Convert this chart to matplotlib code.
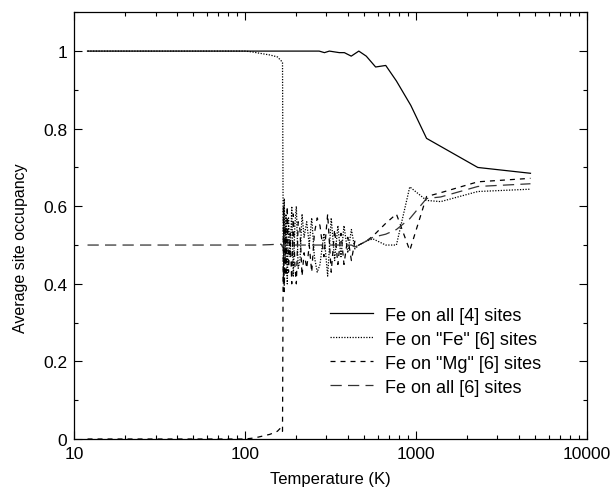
import matplotlib
matplotlib.use("Agg")
import matplotlib.pyplot as plt
from matplotlib.ticker import MultipleLocator, LogLocator, FixedLocator, FixedFormatter, NullFormatter

plt.rcParams['font.family'] = ['Liberation Sans', 'DejaVu Sans']

# Fe on all [4] sites
temps4 = [12, 100, 208, 272, 292, 312, 357, 382, 419, 464, 513, 582, 667, 770, 935, 1156, 2306, 4688]
fe4 = [1.0, 1.0, 1.0, 1.0, 0.996, 1.0, 0.996, 0.996, 0.987, 1.0, 0.987, 0.959, 0.963, 0.923, 0.860, 0.775, 0.700, 0.685]

# [6] site series share one temperature grid
temps6 = [12, 100, 110, 120, 140, 155, 163, 166,
          168, 170, 172, 174, 177, 180, 184, 188, 192, 196, 200, 205, 210, 216, 222,
          230, 238, 246, 255, 265, 275, 290, 305, 320, 335, 350, 365, 380, 400, 420,
          440, 464, 513, 561, 667, 770, 922, 1156, 1400, 2306, 4688]
fe_fe6 = [1.0, 1.0, 0.998, 0.995, 0.99, 0.985, 0.975, 0.97,
          0.40, 0.62, 0.45, 0.58, 0.40, 0.57, 0.47, 0.60, 0.42, 0.55, 0.60, 0.44, 0.46, 0.58, 0.52,
          0.56, 0.50, 0.57, 0.47, 0.43, 0.45, 0.53, 0.42, 0.57, 0.46, 0.55, 0.47, 0.55, 0.48, 0.54,
          0.49, 0.50, 0.51, 0.516, 0.50, 0.50, 0.65, 0.615, 0.612, 0.638, 0.644]
fe_mg6 = [0.0, 0.0, 0.002, 0.005, 0.012, 0.02, 0.03, 0.02,
          0.60, 0.38, 0.55, 0.42, 0.60, 0.43, 0.53, 0.40, 0.58, 0.45, 0.40, 0.56, 0.54, 0.42, 0.48,
          0.44, 0.50, 0.43, 0.53, 0.57, 0.55, 0.47, 0.58, 0.43, 0.54, 0.45, 0.53, 0.45, 0.52, 0.46,
          0.51, 0.50, 0.51, 0.523, 0.556, 0.58, 0.486, 0.625, 0.635, 0.663, 0.672]
fe_all6 = [0.5, 0.5, 0.5, 0.5, 0.501, 0.502, 0.502, 0.495,
           0.50, 0.50, 0.50, 0.50, 0.50, 0.50, 0.50, 0.50, 0.50, 0.50, 0.50, 0.50, 0.50, 0.50, 0.50,
           0.50, 0.50, 0.50, 0.50, 0.50, 0.50, 0.50, 0.50, 0.50, 0.50, 0.50, 0.50, 0.50, 0.50, 0.50,
           0.495, 0.50, 0.51, 0.52, 0.528, 0.54, 0.568, 0.62, 0.624, 0.651, 0.658]

labels = ['Fe on all [4] sites', 'Fe on "Fe" [6] sites', 'Fe on "Mg" [6] sites', 'Fe on all [6] sites']
xticks = [10, 100, 1000, 10000]
xticklabels = ['10', '100', '1000', '10000']
yticks = [0, 0.2, 0.4, 0.6, 0.8, 1.0]
yticklabels = ['0', '0.2', '0.4', '0.6', '0.8', '1']

fig = plt.figure(figsize=(6.13, 4.89), dpi=100)
ax = fig.add_axes([0.1207, 0.1002, 0.8364, 0.8726])

lw = 0.9
ax.plot(temps4, fe4, color='black', lw=lw, ls='-', label=labels[0])
ax.plot(temps6, fe_fe6, color='black', lw=lw, ls=(0, (1, 1.2)), label=labels[1])
ax.plot(temps6, fe_mg6, color='black', lw=lw, ls=(0, (4, 4)), label=labels[2])
ax.plot(temps6, fe_all6, color='#333333', lw=lw, ls=(0, (9, 5)), label=labels[3])

ax.set_xscale('log')
ax.set_xlim(10, 10000)
ax.set_ylim(0, 1.1)
ax.xaxis.set_major_locator(FixedLocator(xticks))
ax.xaxis.set_major_formatter(FixedFormatter(xticklabels))
ax.xaxis.set_minor_locator(LogLocator(base=10, subs=range(2, 10), numticks=20))
ax.xaxis.set_minor_formatter(NullFormatter())
ax.yaxis.set_major_locator(FixedLocator(yticks))
ax.yaxis.set_major_formatter(FixedFormatter(yticklabels))
ax.yaxis.set_minor_locator(MultipleLocator(0.1))

ax.tick_params(which='both', direction='in', top=True, right=True, labelsize=12.5, width=0.8)
ax.tick_params(which='major', length=6, pad=5)
ax.tick_params(which='minor', length=3)
for s in ax.spines.values():
    s.set_linewidth(0.9)

ax.set_xlabel('Temperature (K)', fontsize=12, labelpad=7)
ax.set_ylabel('Average site occupancy', fontsize=11.5)
ax.yaxis.set_label_coords(-0.09, 0.45)

ax.legend(loc='center left', bbox_to_anchor=(0.499, 0.206), frameon=False, fontsize=13,
          handlelength=2.4, handletextpad=0.65, labelspacing=0.39, borderpad=0, borderaxespad=0)

fig.savefig('out.png', dpi=100)
